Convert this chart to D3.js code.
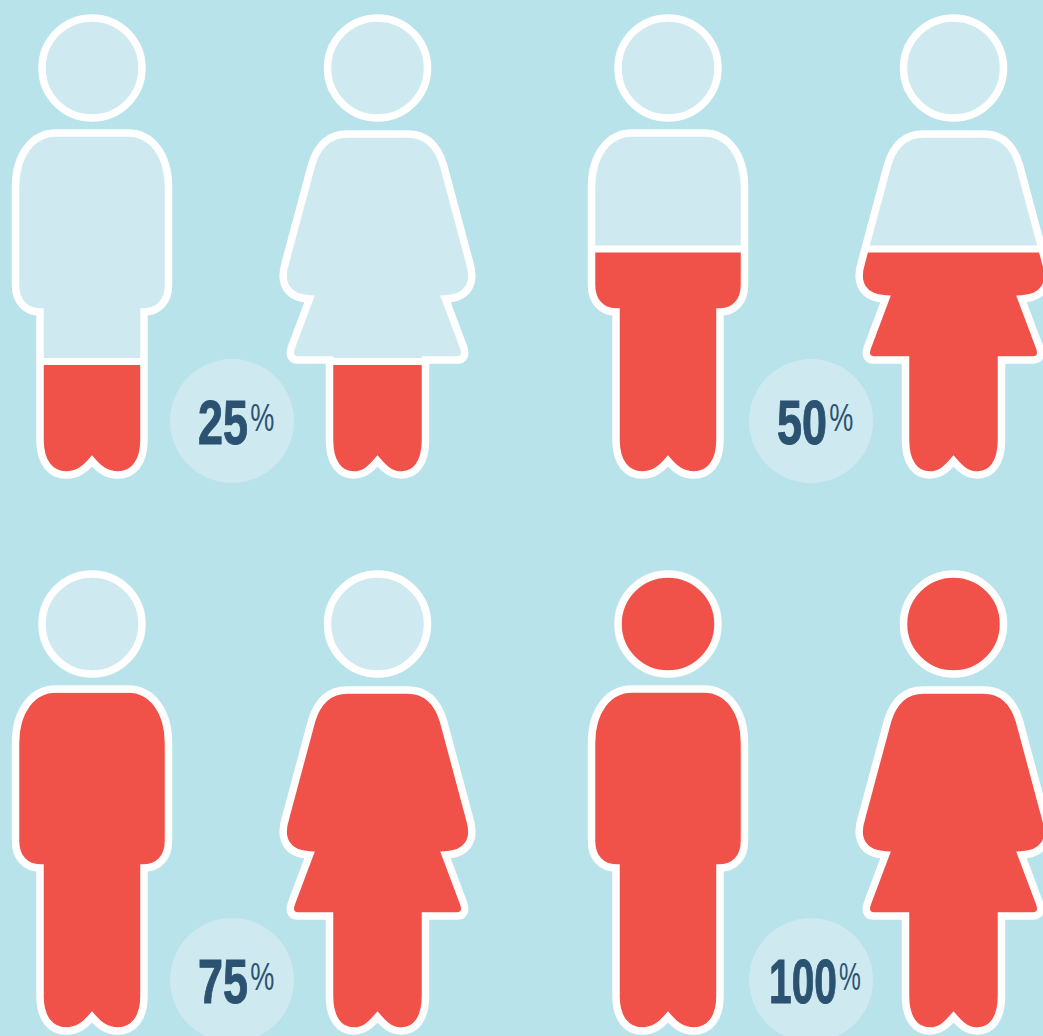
<!DOCTYPE html>
<html>
<head>
<meta charset="utf-8">
<script src="https://cdn.jsdelivr.net/npm/d3@7"></script>
<style>
  html, body { margin: 0; padding: 0; background: #b9e3ea; overflow: hidden; }
  svg { display: block; }
</style>
</head>
<body>
<div id="chart"></div>
<script>
// values of the four panels, read left to right, top to bottom
const percents = [25, 50, 75, 100];
const percentLabels = ["25", "50", "75", "100"];
const columns = [0, 1];
const rows = [0, 1];
const genders = ["man", "woman"];

const width = 1043, height = 1036;
const bgColor = "#b9e3ea", lightColor = "#cfe9f1", redColor = "#f05249",
      lineColor = "#ffffff", textColor = "#2b5270";

// fill level of the figure, in the coordinates of the top row
const levelScale = d3.scaleLinear().domain([25, 50, 75, 100]).range([361.5, 249, 133, 10]);

const columnScale = d3.scalePoint().domain(columns).range([92, 668]);
const rowScale = d3.scalePoint().domain(rows).range([0, 556]);
const genderOffset = d3.scaleOrdinal().domain(genders).range([0, 285.5]);

// silhouettes, x is relative to the centre of the figure
const bodyPaths = {
    man: "M-36,133 L36,133 C60,133 76.5,155 76.5,187 L76.5,285 C76.5,302 66,312 52,312 L52,440 " +
         "C52,463 41,475 26,475 C14,475 7,469 0,461 C-7,469 -14,475 -26,475 C-41,475 -52,463 -52,440 " +
         "L-52,312 C-66,312 -76.5,302 -76.5,285 L-76.5,187 C-76.5,155 -60,133 -36,133 Z",
    woman: "M-30,134 L30,134 C49,134 60,145 66,165 L92,262 C99,284 90,298 68,299 L86,347 C89,355 86,360 80,360 L48,360 " +
           "L48,440 C48,463 38,475 24,475 C13,475 7,469 0,461 C-7,469 -13,475 -24,475 C-38,475 -48,463 -48,440 " +
           "L-48,360 L-80,360 C-86,360 -89,355 -86,347 L-68,299 C-90,298 -99,284 -92,262 L-66,165 C-60,145 -49,134 -30,134 Z"
};
const headY = 68, headR = 50;

const svg = d3.select("#chart").append("svg")
    .attr("width", width)
    .attr("height", height);

svg.append("rect").attr("width", width).attr("height", height).attr("fill", bgColor);

const defs = svg.append("defs");

genders.forEach(function (g) {
    const clip = defs.append("clipPath").attr("id", "shape-" + g);
    clip.append("path").attr("d", bodyPaths[g]);
    clip.append("circle").attr("cy", headY).attr("r", headR);
});

/*************** panels ***************/
const panels = percents.map(function (p, i) {
    return { percent: p, label: percentLabels[i], col: columns[i % 2], row: rows[Math.floor(i / 2)] };
});

panels.forEach(function (panel) {
    const level = levelScale(panel.percent);
    const rowG = svg.append("g").attr("transform", "translate(0," + rowScale(panel.row) + ")");

    genders.forEach(function (g) {
        const fig = rowG.append("g")
            .attr("transform", "translate(" + (columnScale(panel.col) + genderOffset(g)) + ",0)");

        // light base
        fig.append("path").attr("d", bodyPaths[g]).attr("fill", lightColor);
        fig.append("circle").attr("cy", headY).attr("r", headR).attr("fill", lightColor);

        // red part below the level and the white rule on top of it
        const inner = fig.append("g").attr("clip-path", "url(#shape-" + g + ")");
        inner.append("rect")
            .attr("x", -110).attr("width", 220)
            .attr("y", level).attr("height", 480 - level)
            .attr("fill", redColor);
        inner.append("line")
            .attr("x1", -110).attr("x2", 110)
            .attr("y1", level).attr("y2", level)
            .attr("stroke", lineColor).attr("stroke-width", 7);

        // outline
        fig.append("path").attr("d", bodyPaths[g])
            .attr("fill", "none").attr("stroke", lineColor)
            .attr("stroke-width", 7.5).attr("stroke-linejoin", "miter").attr("stroke-miterlimit", 6);
        fig.append("circle").attr("cy", headY).attr("r", headR)
            .attr("fill", "none").attr("stroke", lineColor).attr("stroke-width", 7.5);
    });

    // percent badge
    const badgeX = columnScale(panel.col) + 140 + (panel.col ? 3 : 0);
    const badgeY = 421 + (panel.row ? 3 : 0);
    const badge = rowG.append("g").attr("transform", "translate(" + badgeX + "," + badgeY + ")");
    badge.append("circle").attr("r", 62).attr("fill", lightColor);

    const threeDigits = panel.label.length === 3;
    const squeeze = badge.append("g");
    const num = squeeze.append("text")
        .attr("font-family", "'Liberation Sans', sans-serif")
        .attr("font-weight", 700).attr("font-size", 63)
        .attr("fill", textColor)
        .attr("stroke", textColor).attr("stroke-width", 1)
        .text(panel.label);
    const numLength = num.node().getComputedTextLength();
    squeeze.append("text")
        .attr("x", numLength + 3).attr("y", -13)
        .attr("font-family", "'Liberation Sans', sans-serif")
        .attr("font-size", 38)
        .attr("fill", textColor)
        .text("%");
    squeeze.attr("transform", "translate(" + (threeDigits ? -42 : -34) + ",23) scale(" + ((threeDigits ? 68 : 50) / numLength) + ",1)");
});
</script>
</body>
</html>
